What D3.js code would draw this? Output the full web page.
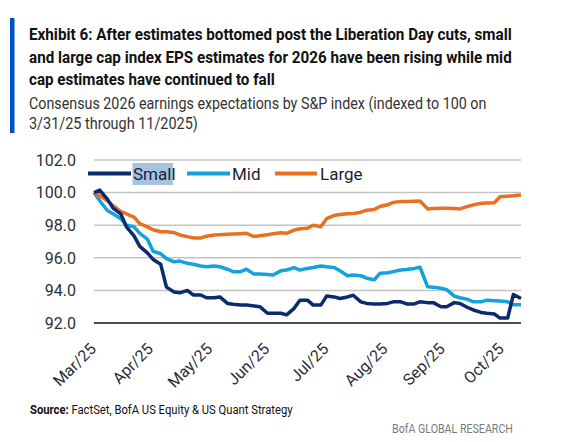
<!DOCTYPE html>
<html>
<head>
<meta charset="utf-8">
<script src="https://cdn.jsdelivr.net/npm/d3@7"></script>
<style>
  body { margin: 0; background: #fff; }
  svg { display: block; }
</style>
</head>
<body>
<svg id="chart" width="563" height="442"></svg>
<script>
// sample dates (Mon / Thu) from 3/31/25
const dates = ["2025-03-31","2025-04-03","2025-04-07","2025-04-10","2025-04-14","2025-04-17","2025-04-21","2025-04-24","2025-04-28","2025-05-01",
  "2025-05-05","2025-05-08","2025-05-12","2025-05-15","2025-05-19","2025-05-22","2025-05-26","2025-05-29","2025-06-02","2025-06-05",
  "2025-06-09","2025-06-12","2025-06-16","2025-06-19","2025-06-23","2025-06-26","2025-06-30","2025-07-03","2025-07-07","2025-07-10",
  "2025-07-14","2025-07-17","2025-07-21","2025-07-24","2025-07-28","2025-07-31","2025-08-04","2025-08-07","2025-08-11","2025-08-14",
  "2025-08-18","2025-08-21","2025-08-25","2025-08-28","2025-09-01","2025-09-04","2025-09-08","2025-09-11","2025-09-15","2025-09-18",
  "2025-09-22","2025-09-25","2025-09-29","2025-10-02","2025-10-06","2025-10-09","2025-10-13","2025-10-16","2025-10-20","2025-10-23",
  "2025-10-27","2025-10-30","2025-11-03","2025-11-06","2025-11-10"];

const small = [100.0,100.15,99.6,99.05,98.7,97.9,97.35,96.7,96.3,95.9,
  95.6,94.2,93.9,93.85,94.0,93.72,93.72,93.55,93.55,93.6,
  93.2,93.15,93.1,93.1,93.05,93.0,92.6,92.6,92.6,92.5,
  92.9,93.4,93.4,93.1,93.1,93.65,93.6,93.5,93.6,93.7,
  93.3,93.2,93.17,93.17,93.2,93.3,93.3,93.17,93.17,93.3,
  93.25,93.25,93.0,93.0,93.25,93.2,92.95,92.8,92.65,92.6,
  92.55,92.3,92.3,93.75,93.5];

const mid = [100.0,99.5,98.9,98.7,98.4,98.0,97.9,97.5,97.15,96.4,
  96.25,95.95,95.75,95.8,95.66,95.6,95.5,95.45,95.5,95.45,
  95.3,95.15,95.15,95.3,95.0,95.0,94.97,94.95,95.2,95.25,
  95.4,95.25,95.35,95.4,95.5,95.45,95.4,95.2,94.9,94.95,
  94.9,94.75,94.65,95.05,95.08,95.15,95.25,95.28,95.35,95.42,
  94.23,94.2,94.13,94.05,93.65,93.55,93.45,93.3,93.3,93.4,
  93.37,93.35,93.3,93.12,93.12];

const large = [100.0,99.8,99.5,99.2,98.85,98.7,98.5,98.1,97.9,97.72,
  97.6,97.6,97.55,97.4,97.3,97.22,97.22,97.32,97.4,97.42,
  97.44,97.46,97.48,97.5,97.3,97.35,97.42,97.48,97.54,97.5,
  97.7,97.78,97.82,98.0,97.9,98.4,98.6,98.66,98.7,98.72,
  98.8,98.92,98.96,99.15,99.25,99.4,99.46,99.45,99.47,99.48,
  99.0,99.03,99.04,99.04,99.02,99.0,99.15,99.25,99.34,99.36,
  99.38,99.75,99.78,99.8,99.85];

const yTicks = [92, 94, 96, 98, 100, 102];
const xTickDates = ["2025-03-31","2025-04-30","2025-05-31","2025-06-30","2025-07-31","2025-08-31","2025-09-30","2025-10-31"];
const xTickLabels = ["Mar/25","Apr/25","May/25","Jun/25","Jul/25","Aug/25","Sep/25","Oct/25"];

const series = [
  { name: "Mid", values: mid, color: "#14a2dc" },
  { name: "Large", values: large, color: "#ea7021" },
  { name: "Small", values: small, color: "#0b2a6f" }
];
const legendOrder = ["Small", "Mid", "Large"];

const parse = d3.timeParse("%Y-%m-%d");
const font = "Roboto, sans-serif";
const svg = d3.select("#chart");

// squeeze a text horizontally to a given width (reference font is condensed)
function fitText(sel, x0, y0, width) {
  const len = sel.node().getComputedTextLength();
  sel.attr("transform", `translate(${x0},${y0}) scale(${width / len},1)`);
  return sel;
}

// header
svg.append("rect").attr("x", 10).attr("y", 18).attr("width", 4.5).attr("height", 115).attr("fill", "#0052c4");

const titleLines = [
  ["Exhibit 6: After estimates bottomed post the Liberation Day cuts, small", 40, 483],
  ["and large cap index EPS estimates for 2026 have been rising while mid", 62.5, 483],
  ["cap estimates have continued to fall", 85, 246]
];
titleLines.forEach(t => {
  const el = svg.append("text").attr("x", 0).attr("y", 0)
    .style("font", `bold 16.5px ${font}`).attr("fill", "#111").text(t[0]);
  fitText(el, 29, t[1], t[2]);
});
const subLines = [
  ["Consensus 2026 earnings expectations by S&P index (indexed to 100 on", 109, 458],
  ["3/31/25 through 11/2025)", 129, 169]
];
subLines.forEach(t => {
  const el = svg.append("text").attr("x", 0).attr("y", 0)
    .style("font", `16px ${font}`).attr("fill", "#333").text(t[0]);
  fitText(el, 29, t[1], t[2]);
});

// scales
const x = d3.scaleTime().domain([parse("2025-03-31"), parse("2025-11-10")]).range([94, 521]);
const y = d3.scaleLinear().domain([92, 102]).range([323, 160]);

// grid
svg.append("g").selectAll("line")
  .data(yTicks.filter(v => v > 92))
  .enter().append("line")
  .attr("x1", 94).attr("x2", 521)
  .attr("y1", d => y(d)).attr("y2", d => y(d))
  .attr("stroke", "#c3c3c3").attr("stroke-width", 1.5);

svg.append("line").attr("x1", 94).attr("x2", 521).attr("y1", y(92)).attr("y2", y(92))
  .attr("stroke", "#111").attr("stroke-width", 1.5);

// y labels
svg.append("g").selectAll("text")
  .data(yTicks)
  .enter().append("text")
  .attr("x", 76).attr("y", d => y(d)).attr("dy", "0.36em")
  .attr("text-anchor", "end")
  .style("font", `16px ${font}`).attr("fill", "#2e2e3a")
  .text(d => d3.format(".1f")(d));

// x labels
svg.append("g").selectAll("text")
  .data(xTickDates)
  .enter().append("text")
  .attr("transform", d => `translate(${x(parse(d)) + 3},350) rotate(-45)`)
  .attr("text-anchor", "end")
  .style("font", `16px ${font}`).attr("fill", "#2e2e3a")
  .text((d, i) => xTickLabels[i]);

// lines
const line = d3.line()
  .x((d, i) => x(parse(dates[i])))
  .y(d => y(d));

svg.append("g").selectAll("path")
  .data(series)
  .enter().append("path")
  .attr("d", d => line(d.values))
  .attr("fill", "none")
  .attr("stroke", d => d.color)
  .attr("stroke-width", 3.5)
  .attr("stroke-linejoin", "round");

// legend
const legendPos = { Small: [88, 131, 133], Mid: [187, 230, 232], Large: [275, 317, 320] };
svg.append("rect").attr("x", 132.5).attr("y", 163).attr("width", 40.5).attr("height", 22).attr("fill", "#a5c3de");
legendOrder.forEach(name => {
  const s = series.find(d => d.name === name);
  const p = legendPos[name];
  svg.append("line").attr("x1", p[0]).attr("x2", p[1]).attr("y1", 173.5).attr("y2", 173.5)
    .attr("stroke", s.color).attr("stroke-width", 4);
  svg.append("text").attr("x", p[2]).attr("y", 173.5).attr("dy", "0.36em")
    .style("font", `17px ${font}`).attr("fill", "#1c1c3a").text(name);
});

// footer
const src = svg.append("text").attr("x", 0).attr("y", 0)
  .style("font", `13.5px ${font}`).attr("fill", "#111");
src.append("tspan").style("font-weight", "bold").text("Source:");
src.append("tspan").text(" FactSet, BofA US Equity & US Quant Strategy");
fitText(src, 30, 414, 263);

const brand = svg.append("text").attr("x", 0).attr("y", 0)
  .style("font", `13px ${font}`).attr("fill", "#7a7a7a").text("BofA GLOBAL RESEARCH");
fitText(brand, 392, 433, 121);
</script>
</body>
</html>
